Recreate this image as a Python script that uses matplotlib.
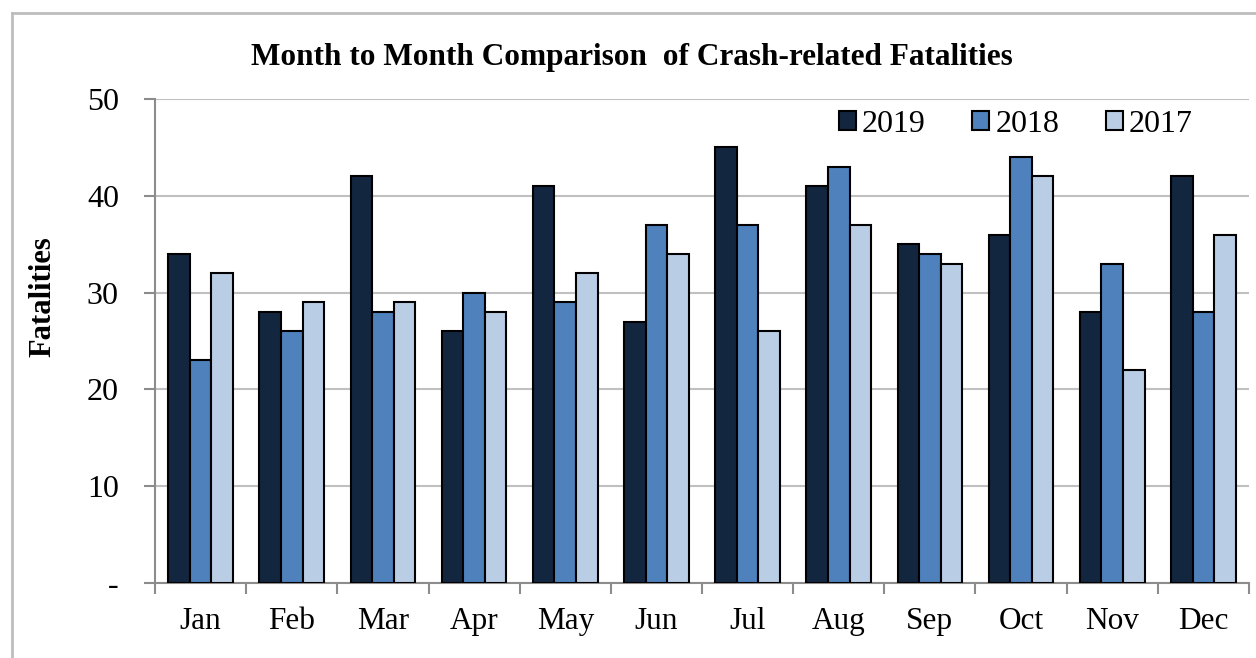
import numpy as np
import matplotlib.pyplot as plt
from matplotlib.lines import Line2D

months = ["Jan", "Feb", "Mar", "Apr", "May", "Jun", "Jul", "Aug", "Sep", "Oct", "Nov", "Dec"]
fat_2019 = [34, 28, 42, 26, 41, 27, 45, 41, 35, 36, 28, 42]
fat_2018 = [23, 26, 28, 30, 29, 37, 37, 43, 34, 44, 33, 28]
fat_2017 = [32, 29, 29, 28, 32, 34, 26, 37, 33, 42, 22, 36]
years = ["2019", "2018", "2017"]
colors = ["#132640", "#4f81bd", "#b9cde5"]

plt.rcParams['font.family'] = ['Liberation Serif', 'DejaVu Serif']

W, H = 1256, 658
fig = plt.figure(figsize=(W / 100, H / 100), dpi=100)
ax = fig.add_axes([155 / W, 1 - 583 / H, (1249 - 155) / W, (583 - 99) / H])

# outer chart border (left and top visible)
fig.add_artist(Line2D([12 / W, 12 / W], [0, 1 - 13 / H], color="#bdbdbd", lw=2))
fig.add_artist(Line2D([12 / W, 1], [1 - 13 / H, 1 - 13 / H], color="#bdbdbd", lw=2))

x = np.arange(len(months)) + 0.5
w = 0.237
for k, (vals, lab, c) in enumerate(zip([fat_2019, fat_2018, fat_2017], years, colors)):
    ax.bar(x + (k - 1) * w, vals, width=w, color=c, edgecolor="black", linewidth=1.5,
           label=lab, zorder=3)

ax.set_xlim(0, 12)
ax.set_ylim(0, 50)
ax.set_yticks([0, 10, 20, 30, 40, 50])
ax.set_yticklabels(["-", "10", "20", "30", "40", "50"], fontsize=23)
ax.yaxis.grid(True, color="#c0c0c0", linewidth=1.5, zorder=0)
ax.set_axisbelow(True)

ax.set_xticks(np.arange(13))
ax.set_xticklabels([])
ax.set_xticks(x, minor=True)
ax.set_xticklabels(months, minor=True, fontsize=22.5)
ax.tick_params(axis="x", which="major", length=8, width=1.5, color="#8c8c8c", direction="out")
ax.tick_params(axis="x", which="minor", length=0, pad=17)
ax.tick_params(axis="y", length=8, width=1.5, color="#8c8c8c", direction="out", pad=18)

for s in ["top", "right"]:
    ax.spines[s].set_visible(False)
for s in ["left", "bottom"]:
    ax.spines[s].set_color("#8c8c8c")
    ax.spines[s].set_linewidth(1.5)

ax.set_ylabel("Fatalities", fontsize=22, fontweight="bold")
ax.yaxis.set_label_coords((57 - 155) / (1249 - 155), (583 - 297) / (583 - 99))
fig.text(632 / W, 1 - 57 / H, "Month to Month Comparison  of Crash-related Fatalities",
         ha="center", va="center", fontsize=22.5, fontweight="bold")

ax.legend(loc="center right", bbox_to_anchor=(1193 / W, 1 - 124 / H),
          bbox_transform=fig.transFigure, ncol=3, frameon=False, fontsize=23,
          handlelength=0.53, handleheight=0.53, handletextpad=0.2,
          columnspacing=1.45, borderpad=0, borderaxespad=0)

fig.savefig("out.png", dpi=100)
